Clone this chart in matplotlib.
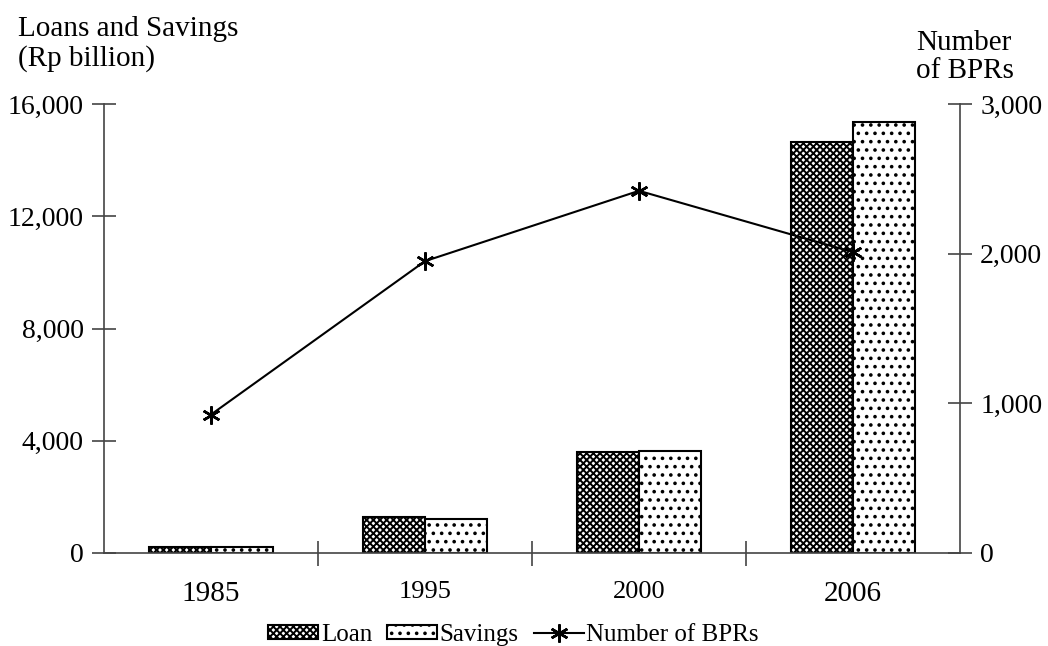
import matplotlib
matplotlib.use("Agg")
import matplotlib.pyplot as plt
from matplotlib.ticker import FuncFormatter
import numpy as np

years = ["1985", "1995", "2000", "2006"]
loan = [200, 1280, 3600, 14650]
savings = [200, 1200, 3650, 15350]
bprs = [925, 1950, 2420, 2010]

plt.rcParams['font.family'] = ['Liberation Serif', 'DejaVu Serif']
plt.rcParams['hatch.linewidth'] = 1.4

fig = plt.figure(figsize=(10.48, 6.46), dpi=100)
ax = fig.add_axes([104/1048, 93/646, (960-104)/1048, (553-104)/646])
ax2 = ax.twinx()

x = np.arange(len(years))
w = 0.29
ax.bar(x - w/2, loan, width=w, facecolor='white', edgecolor='black', hatch='xxxxx', linewidth=1.5, label='Loan', zorder=2)
ax.bar(x + w/2, savings, width=w, facecolor='white', edgecolor='black', hatch='..', linewidth=1.5, label='Savings', zorder=2)

ax2.plot(x, bprs, color='black', linewidth=1.5, marker=(6, 2, 0), markersize=13, markeredgewidth=1.8, label='Number of BPRs')

ax.set_xlim(-0.5, 3.5)
ax.set_ylim(0, 16000)
ax2.set_ylim(0, 3000)
ax.set_yticks([0, 4000, 8000, 12000, 16000])
ax2.set_yticks([0, 1000, 2000, 3000])
fmt = FuncFormatter(lambda v, p: f"{int(v):,}")
ax.yaxis.set_major_formatter(fmt)
ax2.yaxis.set_major_formatter(fmt)

spine_c = '#444444'
for a in (ax, ax2):
    a.spines['top'].set_visible(False)
    for s in a.spines.values():
        s.set_color(spine_c)
        s.set_linewidth(1.2)
ax.spines['right'].set_visible(False)
ax2.spines['left'].set_visible(False)
ax2.spines['bottom'].set_visible(False)

ax.set_xticks(x)
ax.set_xticks([0.5, 1.5, 2.5], minor=True)
ax.set_xticklabels(years)
ax.tick_params(axis='x', which='major', length=0, pad=20)
ax.tick_params(axis='x', which='minor', length=18, direction='inout', color=spine_c, width=1.2)
sizes = [21, 19, 19, 21]
for lbl, s in zip(ax.get_xticklabels(), sizes):
    lbl.set_fontsize(s)
ax.tick_params(axis='y', direction='inout', length=17, width=1.2, color=spine_c, labelsize=20, pad=6)
ax2.tick_params(axis='y', direction='inout', length=17, width=1.2, color=spine_c, labelsize=20, pad=6)

fig.text(18/1048, 1 - 36/646, "Loans and Savings", fontsize=21, ha='left', va='baseline')
fig.text(18/1048, 1 - 66/646, "(Rp billion)", fontsize=21, ha='left', va='baseline')
fig.text(916/1048, 1 - 50/646, "Number", fontsize=21, ha='left', va='baseline')
fig.text(916/1048, 1 - 78/646, "of BPRs", fontsize=21, ha='left', va='baseline')

h1, l1 = ax.get_legend_handles_labels()
h2, l2 = ax2.get_legend_handles_labels()
fig.legend(h1 + h2, l1 + l2, loc='lower center', bbox_to_anchor=(0.49, -0.035), ncol=3, frameon=False,
           fontsize=18, handlelength=2.0, handletextpad=0.1, columnspacing=0.6, handleheight=0.5)

fig.savefig("out.png", dpi=100)
